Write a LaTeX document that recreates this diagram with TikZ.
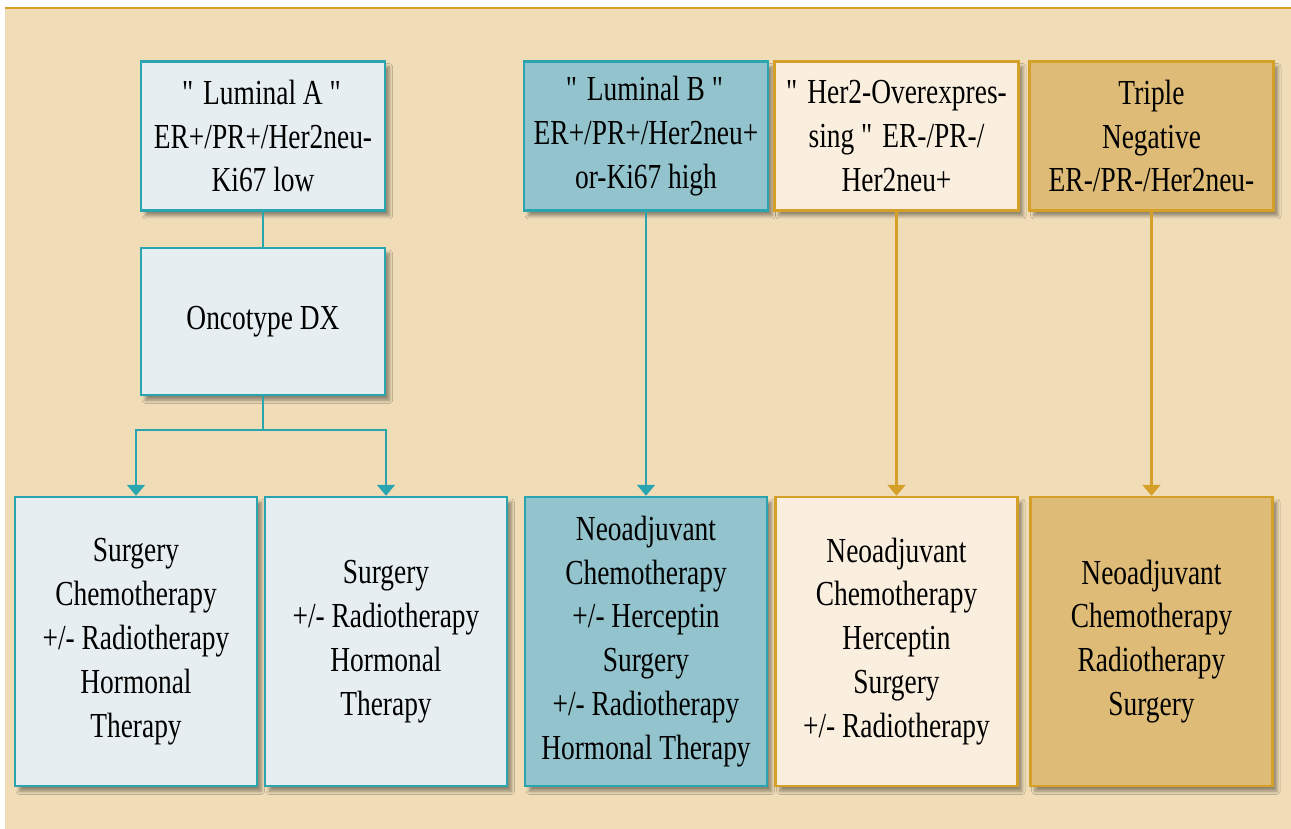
\documentclass[tikz,border=0pt]{standalone}
\usepackage{fontspec}
\setmainfont{Liberation Serif}[FakeStretch=0.78]
\usetikzlibrary{positioning, arrows.meta, shadows.blur}
\definecolor{bgbeige}{HTML}{F0DDB8}
\definecolor{tealline}{HTML}{2AA5AF}
\definecolor{tealpale}{HTML}{E6EEF1}
\definecolor{tealmid}{HTML}{93C4CE}
\definecolor{goldline}{HTML}{D4A028}
\definecolor{goldpale}{HTML}{FAEEDE}
\definecolor{goldmid}{HTML}{DEBB76}
\newcommand{\sq}{\textquotedbl}

\begin{document}
\begin{tikzpicture}
    [
        node distance=5cm and 5cm, on grid,
        box/.style={rectangle, align=center, line width=1.4pt, inner sep=2pt, font=\fontsize{20}{25}\selectfont, blur shadow={shadow xshift=2.5pt, shadow yshift=-3pt, shadow opacity=40, shadow blur steps=6}},
        top_box/.style={box, minimum width=4.88cm, minimum height=2.98cm},
        low_box/.style={box, minimum width=4.84cm, minimum height=5.78cm},
        teal_pale/.style={draw=tealline, fill=tealpale},
        teal_mid/.style={draw=tealline, fill=tealmid},
        gold_pale/.style={draw=goldline, fill=goldpale},
        gold_mid/.style={draw=goldline, fill=goldmid},
        teal_arrow/.style={-{Triangle[width=0.36cm, length=0.22cm]}, line width=1.2pt, color=tealline},
        gold_arrow/.style={-{Triangle[width=0.36cm, length=0.22cm]}, line width=1.2pt, color=goldline},
    ]
        \useasboundingbox (0,0) rectangle (25.82,-16.58) ;
        \fill[bgbeige] (0.1,-0.16) rectangle (25.82,-16.58) ;
        \draw[goldline, line width=1pt] (0.1,-0.16) -- (25.82,-0.16) ;
        \node[top_box, teal_pale] (lumA) at (5.26,-2.72) {\sq{} Luminal A \sq\\ER+/PR+/Her2neu-\\Ki67 low} ;
        \node[top_box, teal_pale, minimum height=2.94cm] (oncotype) [below = 3.71cm of lumA] {Oncotype DX} ;
        \node[low_box, teal_pale] (lumA_t1) [below left = 10.11cm and 2.54cm of lumA] {Surgery\\Chemotherapy\\+/- Radiotherapy\\Hormonal\\Therapy} ;
        \node[low_box, teal_pale] (lumA_t2) [right = 5cm of lumA_t1] {Surgery\\+/- Radiotherapy\\Hormonal\\Therapy} ;
        \node[top_box, teal_mid] (lumB) [right = 7.66cm of lumA] {\sq{} Luminal B \sq\\ER+/PR+/Her2neu+\\or-Ki67 high} ;
        \node[low_box, teal_mid] (lumB_t) [below = 10.11cm of lumB] {Neoadjuvant\\Chemotherapy\\+/- Herceptin\\Surgery\\+/- Radiotherapy\\Hormonal Therapy} ;
        \node[top_box, gold_pale] (her2) [right = 5.01cm of lumB] {\sq{} Her2-Overexpres-\\sing \sq{} ER-/PR-/\\Her2neu+} ;
        \node[low_box, gold_pale] (her2_t) [below = 10.11cm of her2] {Neoadjuvant\\Chemotherapy\\Herceptin\\Surgery\\+/- Radiotherapy} ;
        \node[top_box, gold_mid] (triple) [right = 5.1cm of her2] {Triple\\Negative\\ER-/PR-/Her2neu-} ;
        \node[low_box, gold_mid] (triple_t) [below = 10.11cm of triple] {Neoadjuvant\\Chemotherapy\\Radiotherapy\\Surgery} ;
        \draw[line width=1.2pt, color=tealline] (lumA) -- (oncotype) ;
        \draw[line width=1.2pt, color=tealline] (oncotype.south) -- ++(0,-0.68) coordinate (split) ;
        \draw[teal_arrow] (split) -| (lumA_t1.north) ;
        \draw[teal_arrow] (split) -| (lumA_t2.north) ;
        \draw[teal_arrow] (lumB) -- (lumB_t) ;
        \draw[gold_arrow] (her2) -- (her2_t) ;
        \draw[gold_arrow] (triple) -- (triple_t) ;
    \end{tikzpicture}
\end{document}
